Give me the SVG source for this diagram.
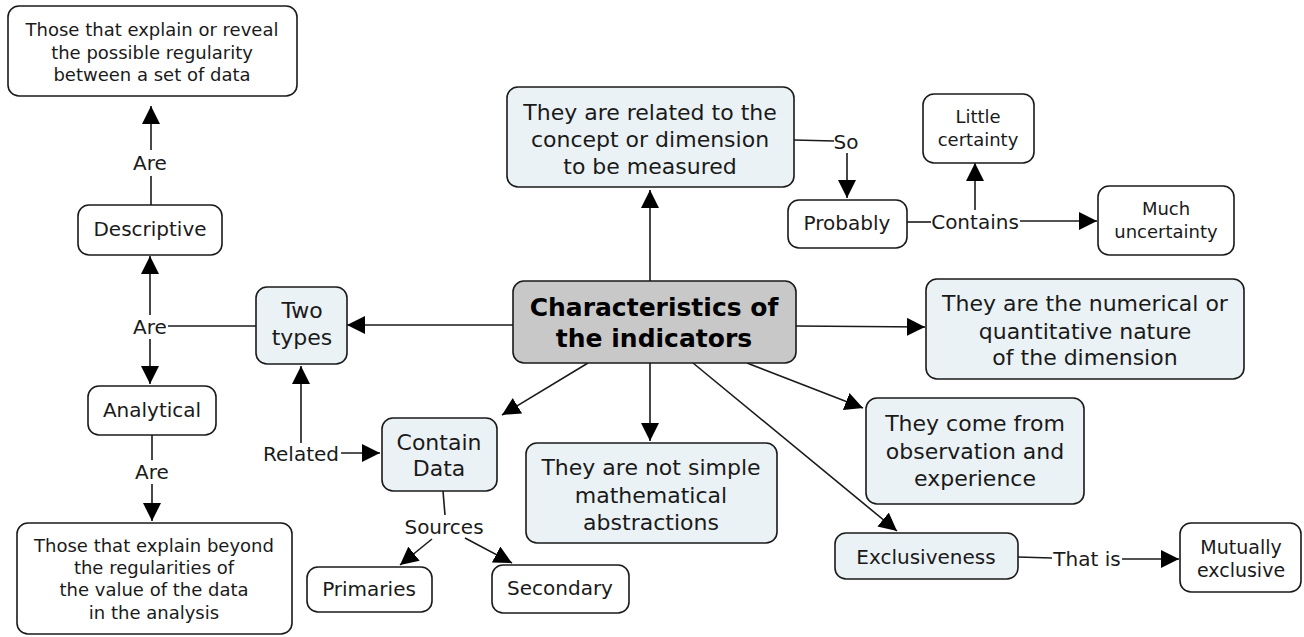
<svg xmlns="http://www.w3.org/2000/svg" width="1304" height="637" viewBox="0 0 1304 637">
<defs>
<marker id="ah" viewBox="0 0 10 10" refX="10" refY="5" markerWidth="18" markerHeight="18" markerUnits="userSpaceOnUse" orient="auto"><path d="M0,0 L10,5 L0,10 z" fill="#000"/></marker>
<style>
.box{fill:#fff;stroke:#1a1a1a;stroke-width:1.6}
.blue{fill:#ebf2f5;stroke:#1a1a1a;stroke-width:1.6}
.core{fill:#c8c8c8;stroke:#1a1a1a;stroke-width:1.6}
text{font-family:"DejaVu Sans",Verdana,sans-serif;fill:#1a1a1a;text-anchor:middle;dominant-baseline:central}
.s18{font-size:18px}.s19{font-size:19px}.s20{font-size:20px}.s22{font-size:22px}
.bold{font-size:25px;font-weight:bold;fill:#000}
.ln{stroke:#1a1a1a;stroke-width:1.6;fill:none}
.ar{stroke:#1a1a1a;stroke-width:1.6;fill:none;marker-end:url(#ah)}
</style>
</defs>
<rect width="1304" height="637" fill="#fff"/>
<g id="connectors">
<line class="ar" x1="650" y1="281" x2="650" y2="190"/>
<line class="ln" x1="794" y1="140" x2="834" y2="141"/>
<line class="ar" x1="847" y1="153" x2="847" y2="198"/>
<line class="ln" x1="907" y1="222" x2="931" y2="222"/>
<line class="ar" x1="975" y1="210" x2="975" y2="163"/>
<line class="ar" x1="1020" y1="221" x2="1097" y2="221"/>
<line class="ar" x1="513" y1="325" x2="347" y2="325"/>
<line class="ln" x1="256" y1="326" x2="168" y2="326"/>
<line class="ar" x1="150" y1="315" x2="150" y2="256"/>
<line class="ar" x1="150" y1="339" x2="150" y2="384"/>
<line class="ln" x1="151" y1="205" x2="151" y2="176"/>
<line class="ar" x1="151" y1="150" x2="151" y2="106"/>
<line class="ln" x1="152" y1="435" x2="152" y2="460"/>
<line class="ar" x1="152" y1="484" x2="152" y2="521"/>
<line class="ar" x1="301" y1="443" x2="301" y2="366"/>
<line class="ar" x1="341" y1="453" x2="380" y2="453"/>
<line class="ar" x1="588" y1="363" x2="502" y2="415"/>
<line class="ln" x1="443" y1="491" x2="445" y2="515"/>
<line class="ar" x1="432" y1="539" x2="400" y2="565"/>
<line class="ar" x1="465" y1="538" x2="512" y2="563"/>
<line class="ar" x1="650" y1="363" x2="650" y2="441"/>
<line class="ar" x1="693" y1="363" x2="897" y2="531"/>
<line class="ar" x1="747" y1="363" x2="863" y2="408"/>
<line class="ar" x1="796" y1="326" x2="925" y2="327"/>
<line class="ln" x1="1018" y1="557" x2="1052" y2="558"/>
<line class="ar" x1="1122" y1="559" x2="1179" y2="559"/>
<text class="s20" x="150" y="163">Are</text>
<text class="s20" x="150" y="327">Are</text>
<text class="s20" x="152" y="472">Are</text>
<text class="s20" x="301" y="454">Related</text>
<text class="s20" x="444" y="527">Sources</text>
<text class="s20" x="846" y="142">So</text>
<text class="s20" x="975" y="222">Contains</text>
<text class="s20" x="1087" y="559">That is</text>
</g>
<g id="n-reveal"><rect class="box" x="8" y="6" width="289" height="90" rx="11"/>
<text class="s18" x="152" y="29">Those that explain or reveal</text>
<text class="s18" x="152" y="52">the possible regularity</text>
<text class="s18" x="152" y="74">between a set of data</text></g>
<g id="n-descriptive"><rect class="box" x="78" y="205" width="144" height="50" rx="11"/>
<text class="s20" x="150" y="229">Descriptive</text></g>
<g id="n-twotypes"><rect class="blue" x="256" y="287" width="91" height="77" rx="11"/>
<text class="s22" x="302" y="310">Two</text>
<text class="s22" x="302" y="337">types</text></g>
<g id="n-analytical"><rect class="box" x="88" y="386" width="128" height="49" rx="11"/>
<text class="s20" x="152" y="410">Analytical</text></g>
<g id="n-beyond"><rect class="box" x="17" y="523" width="275" height="111" rx="11"/>
<text class="s18" x="154" y="545">Those that explain beyond</text>
<text class="s18" x="154" y="567">the regularities of</text>
<text class="s18" x="154" y="589">the value of the data</text>
<text class="s18" x="154" y="612">in the analysis</text></g>
<g id="n-center"><rect class="core" x="513" y="281" width="283" height="82" rx="11"/>
<text class="bold" x="654" y="307">Characteristics of</text>
<text class="bold" x="654" y="338">the indicators</text></g>
<g id="n-related"><rect class="blue" x="507" y="87" width="287" height="100" rx="11"/>
<text class="s22" x="650" y="112">They are related to the</text>
<text class="s22" x="650" y="139">concept or dimension</text>
<text class="s22" x="650" y="166">to be measured</text></g>
<g id="n-probably"><rect class="box" x="788" y="200" width="119" height="48" rx="11"/>
<text class="s20" x="847" y="223">Probably</text></g>
<g id="n-little"><rect class="box" x="923" y="94" width="111" height="69" rx="11"/>
<text class="s18" x="978" y="116">Little</text>
<text class="s18" x="978" y="139">certainty</text></g>
<g id="n-much"><rect class="box" x="1098" y="186" width="136" height="69" rx="11"/>
<text class="s18" x="1166" y="208">Much</text>
<text class="s18" x="1166" y="231">uncertainty</text></g>
<g id="n-numerical"><rect class="blue" x="926" y="279" width="318" height="100" rx="11"/>
<text class="s22" x="1085" y="303">They are the numerical or</text>
<text class="s22" x="1085" y="331">quantitative nature</text>
<text class="s22" x="1085" y="357">of the dimension</text></g>
<g id="n-comefrom"><rect class="blue" x="866" y="398" width="218" height="106" rx="11"/>
<text class="s22" x="975" y="423">They come from</text>
<text class="s22" x="975" y="451">observation and</text>
<text class="s22" x="975" y="478">experience</text></g>
<g id="n-exclusiveness"><rect class="blue" x="835" y="533" width="183" height="46" rx="11"/>
<text class="s20" x="926" y="557">Exclusiveness</text></g>
<g id="n-mutually"><rect class="box" x="1180" y="523" width="121" height="69" rx="11"/>
<text class="s19" x="1241" y="547">Mutually</text>
<text class="s19" x="1241" y="570">exclusive</text></g>
<g id="n-notsimple"><rect class="blue" x="526" y="443" width="251" height="100" rx="11"/>
<text class="s22" x="651" y="467">They are not simple</text>
<text class="s22" x="651" y="495">mathematical</text>
<text class="s22" x="651" y="522">abstractions</text></g>
<g id="n-containdata"><rect class="blue" x="382" y="418" width="115" height="73" rx="11"/>
<text class="s22" x="439" y="442">Contain</text>
<text class="s22" x="439" y="468">Data</text></g>
<g id="n-primaries"><rect class="box" x="307" y="567" width="125" height="45" rx="11"/>
<text class="s20" x="369" y="589">Primaries</text></g>
<g id="n-secondary"><rect class="box" x="492" y="565" width="137" height="48" rx="11"/>
<text class="s20" x="560" y="588">Secondary</text></g>
</svg>
